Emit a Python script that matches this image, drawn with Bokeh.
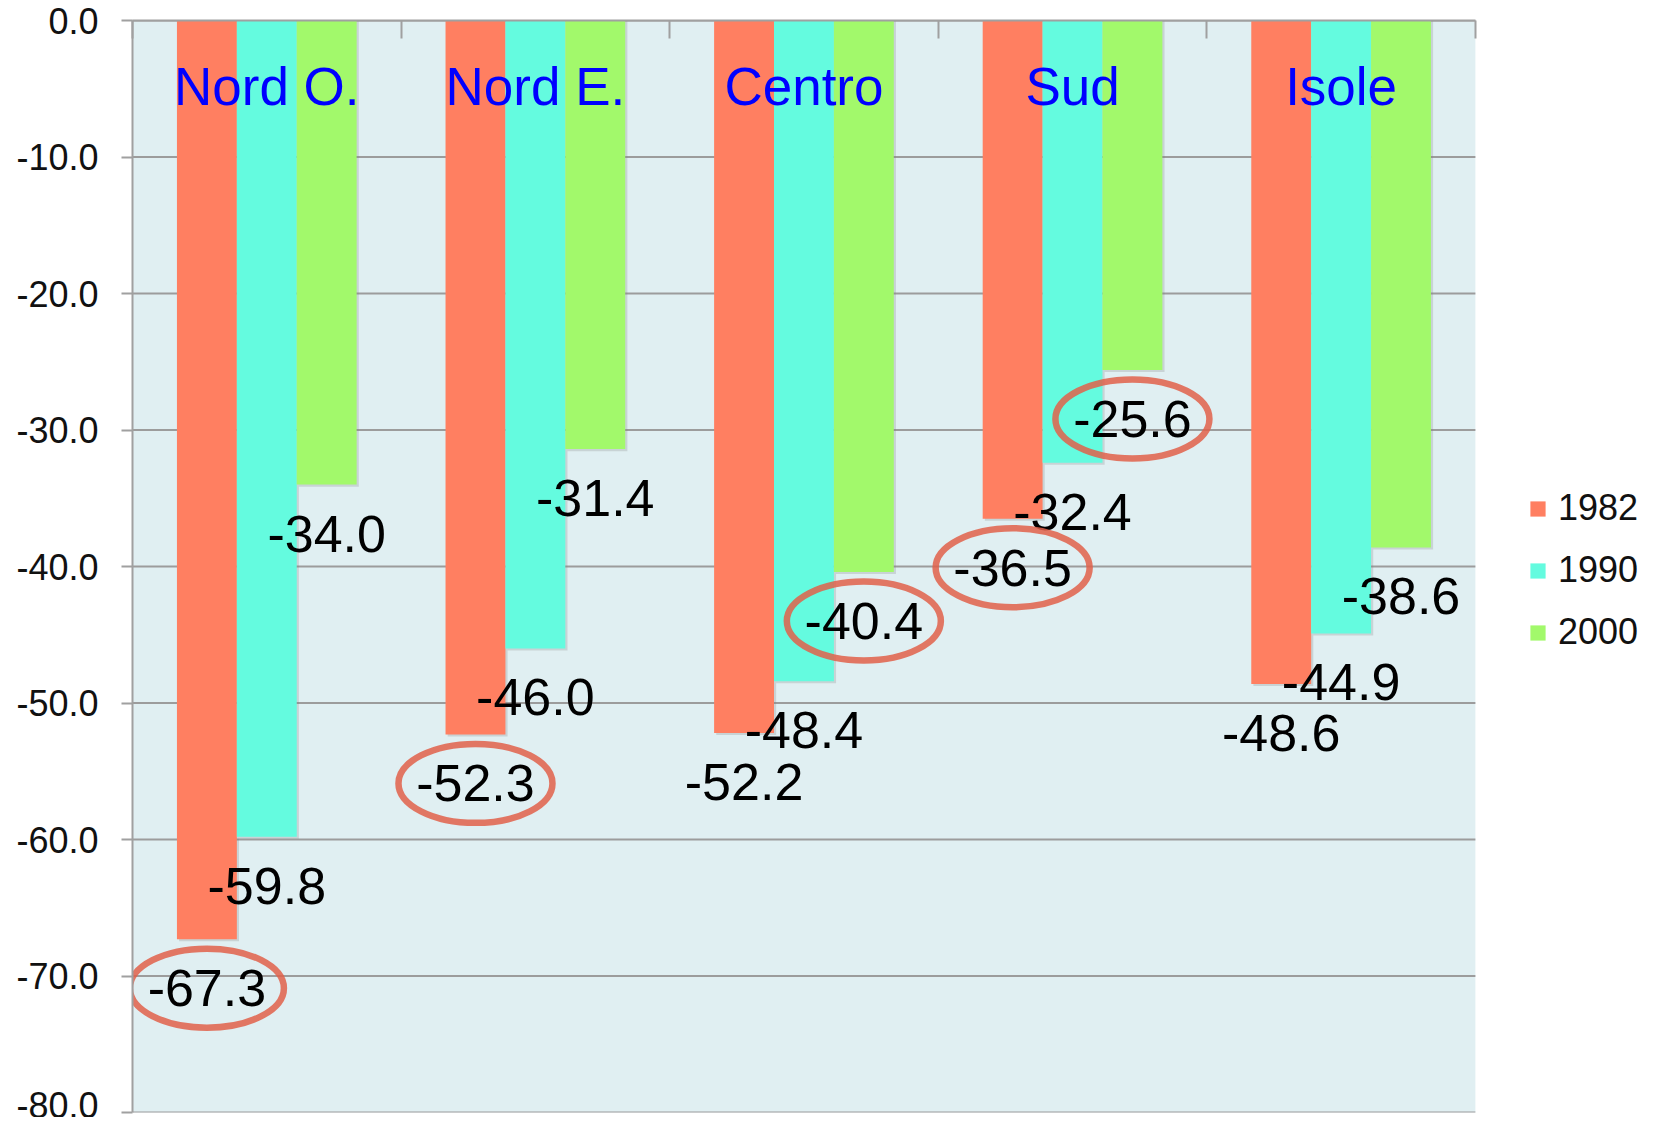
from bokeh.plotting import figure
from bokeh.models import (ColumnDataSource, Range1d, FixedTicker, PrintfTickFormatter,
                          BoxAnnotation, Legend, LegendItem, CustomJSTickFormatter)
from bokeh.core.properties import value
from bokeh.embed import file_html
from bokeh.resources import INLINE

# ---------------- data ----------------
regions = ["Nord O.", "Nord E.", "Centro", "Sud", "Isole"]
years = ["1982", "1990", "2000"]
v1982 = [-67.3, -52.3, -52.2, -36.5, -48.6]
v1990 = [-59.8, -46.0, -48.4, -32.4, -44.9]
v2000 = [-34.0, -31.4, -40.4, -25.6, -38.6]
circled1982 = [True, True, False, True, False]
circled1990 = [False, False, False, False, False]
circled2000 = [False, False, True, True, False]
y_ticks = [-80, -70, -60, -50, -40, -30, -20, -10, 0]

# ---------------- style ----------------
FONT = "Liberation Sans"
COLORS = ["#FF7F61", "#64FBDF", "#A2F96B"]
BG = "#E0EFF2"
GRID = "#9C9C9C"
BAR_W = 0.223
DODGE = [-0.223, 0.0, 0.223]
Y_MIN, Y_MAX = -80, 0
FRAME_H = 1092
PX_PER_UNIT = FRAME_H / (Y_MAX - Y_MIN)
N = len(regions)
X_END = 5.611

p = figure(width=1639, height=1117, output_backend="svg", toolbar_location=None,
           x_axis_location="above",
           x_range=Range1d(0, X_END), y_range=Range1d(Y_MIN, Y_MAX),
           min_border_left=132, min_border_top=20, min_border_bottom=5, min_border_right=0)
p.outline_line_color = None
p.background_fill_color = "white"
p.border_fill_color = "white"
p.xgrid.visible = False
p.ygrid.visible = False

# plotting area background (only over the category span)
p.add_layout(BoxAnnotation(left=0, right=N, bottom=Y_MIN, top=Y_MAX,
                           fill_color=BG, fill_alpha=1, line_color=None, level="underlay"))

# gridlines limited to the category span
p.segment(x0=[0] * len(y_ticks), x1=[N] * len(y_ticks), y0=y_ticks, y1=y_ticks,
          line_color=GRID, line_width=2)

# top axis: ticks at category boundaries, pointing in, no labels
xa = p.xaxis[0]
xa.ticker = FixedTicker(ticks=list(range(N + 1)))
xa.bounds = (0, N)
xa.major_tick_in = 18
xa.major_tick_out = 0
xa.minor_tick_line_color = None
xa.formatter = CustomJSTickFormatter(code="return ''")
xa.major_label_standoff = 0
xa.axis_line_color = "#A0A0A0"
xa.axis_line_width = 2
xa.major_tick_line_color = "#A0A0A0"
xa.major_tick_line_width = 2

ya = p.yaxis[0]
ya.ticker = FixedTicker(ticks=y_ticks)
ya.formatter = PrintfTickFormatter(format="%.1f")
ya.major_tick_out = 11
ya.major_tick_in = 0
ya.minor_tick_line_color = None
ya.axis_line_color = "#A0A0A0"
ya.axis_line_width = 2
ya.major_tick_line_color = "#A0A0A0"
ya.major_tick_line_width = 2
ya.major_label_text_font = FONT
ya.major_label_text_font_size = "36px"
ya.major_label_text_color = "#111111"
ya.major_label_standoff = 23

series = [v1982, v1990, v2000]
circled = [circled1982, circled1990, circled2000]
bar_renderers = []
sources = []
for k, (vals, col) in enumerate(zip(series, COLORS)):
    xs = [i + 0.5 + DODGE[k] for i in range(N)]
    src = ColumnDataSource(dict(x=xs, val=vals, top=[0] * N,
                                lab=[f"{v:.1f}" for v in vals],
                                sx=[x + 0.008 for x in xs],
                                sb=[v - 0.15 for v in vals]))
    sources.append(src)
    # soft drop shadow
    p.vbar(x="sx", width=BAR_W, top="top", bottom="sb", source=src,
           fill_color="#808080", fill_alpha=0.25, line_color=None)
    r = p.vbar(x="x", width=BAR_W, top="top", bottom="val", source=src,
               fill_color=col, line_color=None)
    bar_renderers.append(r)

# category names inside the plot
cat_src = ColumnDataSource(dict(x=[i + 0.5 for i in range(N)], y=[Y_MAX] * N, t=regions))
p.text(x="x", y="y", text="t", source=cat_src, text_font=value(FONT),
       text_font_size="53px", text_color="#0000FF", text_align="center",
       text_baseline="alphabetic", y_offset=66)

# value labels under each bar end
for src in sources:
    p.text(x="x", y="val", text="lab", source=src, text_font=value(FONT),
           text_font_size="52px", text_color="black", text_align="center",
           text_baseline="alphabetic", y_offset=49)

# red circles around highlighted values
ex, ey = [], []
for k, vals in enumerate(series):
    for i, v in enumerate(vals):
        if circled[k][i]:
            ex.append(i + 0.5 + DODGE[k])
            ey.append(v - 49 / PX_PER_UNIT)
p.ellipse(x=ex, y=ey, width=154, height=79, width_units="screen", height_units="screen",
          fill_color=None, line_color="#E0604A", line_width=6.5, line_alpha=0.85)

legend = Legend(items=[LegendItem(label=y, renderers=[r]) for y, r in zip(years, bar_renderers)],
                location=(1396, 459), orientation="vertical",
                glyph_width=19, glyph_height=19, label_standoff=11, label_height=42,
                spacing=20, padding=0, margin=0,
                label_text_font=FONT, label_text_font_size="36px", label_text_color="#111111",
                border_line_color=None, background_fill_alpha=0)
p.add_layout(legend)

open("out.html", "w").write(file_html(p, INLINE))
